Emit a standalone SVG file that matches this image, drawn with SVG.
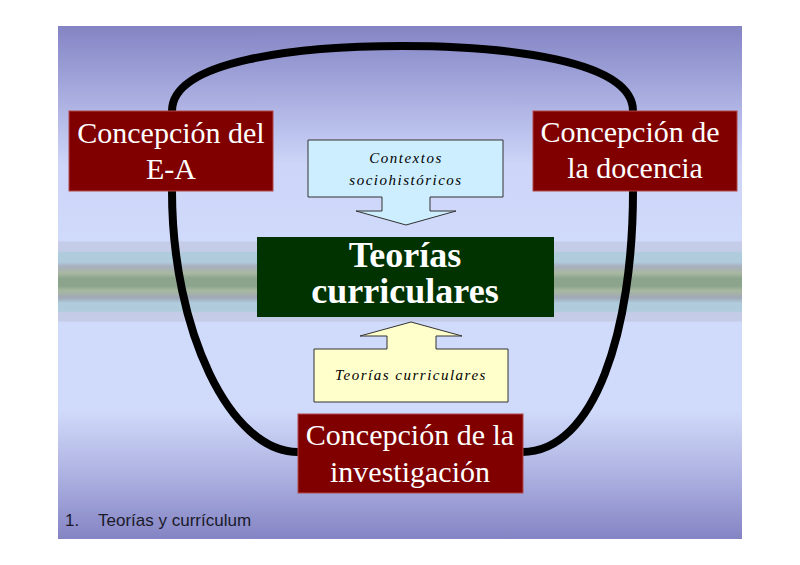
<svg xmlns="http://www.w3.org/2000/svg" width="800" height="565" viewBox="0 0 800 565">
<defs>
<linearGradient id="bg" gradientUnits="userSpaceOnUse" x1="0" y1="26" x2="0" y2="539">
<stop offset="0" stop-color="#8484c4"/>
<stop offset="0.12" stop-color="#a4a8dc"/>
<stop offset="0.27" stop-color="#cdd5f8"/>
<stop offset="0.419" stop-color="#d0dafa"/>
<stop offset="0.421" stop-color="#c4cce8"/>
<stop offset="0.439" stop-color="#c4cce8"/>
<stop offset="0.441" stop-color="#b0ccdc"/>
<stop offset="0.46" stop-color="#b0ccdc"/>
<stop offset="0.468" stop-color="#a8b0c0"/>
<stop offset="0.482" stop-color="#a8b8a0"/>
<stop offset="0.492" stop-color="#8ca48c"/>
<stop offset="0.507" stop-color="#8ca48c"/>
<stop offset="0.516" stop-color="#a8b8a0"/>
<stop offset="0.53" stop-color="#a0a8b8"/>
<stop offset="0.54" stop-color="#b0ccdc"/>
<stop offset="0.556" stop-color="#b0ccdc"/>
<stop offset="0.559" stop-color="#c4cce8"/>
<stop offset="0.575" stop-color="#c4cce8"/>
<stop offset="0.578" stop-color="#d0dafa"/>
<stop offset="0.75" stop-color="#d0dafa"/>
<stop offset="0.88" stop-color="#acb0e0"/>
<stop offset="1" stop-color="#8484c4"/>
</linearGradient>
</defs>
<style>
.red{fill:#800000;stroke:#b04848;stroke-width:1}
.big{font-family:"Liberation Serif","Times New Roman",serif;font-size:30px;fill:#ffffff;text-anchor:middle}
.title{font-family:"Liberation Serif","Times New Roman",serif;font-size:36px;font-weight:bold;fill:#ffffff;text-anchor:middle}
.small{font-family:"Liberation Serif","Times New Roman",serif;font-size:15px;font-style:italic;letter-spacing:1.5px;fill:#000000;text-anchor:middle}
.arrow{stroke:#333333;stroke-width:1}
.loop{fill:none;stroke:#000000;stroke-width:8;stroke-linecap:butt}
.foot{font-family:"Liberation Sans",Arial,sans-serif;font-size:17px;fill:#1a1a2a}
</style>
<rect x="0" y="0" width="800" height="565" fill="#ffffff"/>
<rect x="58" y="26" width="684" height="513" fill="url(#bg)"/>
<g id="connectors">
<path class="loop" d="M172,111 C172,60 300,46 402,46 C505,46 633,60 633,111"/>
<path class="loop" d="M172,191 C172,330 230,452 298,452"/>
<path class="loop" d="M633,191 C633,330 595,452 522,452"/>
</g>
<g id="concepcion-ea">
<rect class="red" x="69" y="111" width="204" height="80"/>
<text class="big" x="171" y="143">Concepción del</text>
<text class="big" x="171" y="179">E-A</text>
</g>
<g id="concepcion-docencia">
<rect class="red" x="533" y="111" width="204" height="80"/>
<text class="big" x="630" y="142">Concepción de</text>
<text class="big" x="635" y="178">la docencia</text>
</g>
<g id="contextos">
<path class="arrow" fill="#cceeff" d="M308,140 H503 V197 H430 V211 H456 L406,225 L356,211 H382 V197 H308 Z"/>
<text class="small" x="406" y="163">Contextos</text>
<text class="small" x="406" y="185">sociohistóricos</text>
</g>
<g id="teorias-curriculares">
<rect x="257" y="237" width="297" height="80" fill="#003300"/>
<text class="title" x="405" y="267">Teorías</text>
<text class="title" x="405" y="303">curriculares</text>
</g>
<g id="teorias-input">
<path class="arrow" fill="#ffffcc" d="M411,322 L462,336 H436 V349 H508 V402 H314 V349 H387 V336 H360 Z"/>
<text class="small" x="411" y="380">Teorías curriculares</text>
</g>
<g id="concepcion-investigacion">
<rect class="red" x="298" y="414" width="225" height="79"/>
<text class="big" x="410" y="445">Concepción de la</text>
<text class="big" x="410" y="482">investigación</text>
</g>
<text class="foot" x="65" y="526">1.</text>
<text class="foot" x="98" y="526">Teorías y currículum</text>
</svg>
